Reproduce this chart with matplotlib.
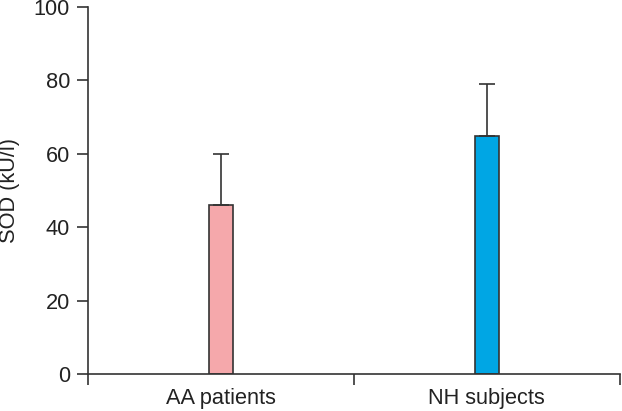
import numpy as np
import matplotlib.pyplot as plt

plt.rcParams['font.family'] = ['Liberation Sans', 'DejaVu Sans']

groups = ['AA patients', 'NH subjects']
sod_mean = [46.0, 64.8]
sod_sd = [14.0, 14.2]
bar_colors = ['#f5a8ab', '#00a6e4']

fig = plt.figure(figsize=(6.22, 4.11), dpi=100)
ax = fig.add_axes([0.1415, 0.09, 0.855, 0.893])

x = np.arange(len(groups))
ax.bar(x, sod_mean, width=0.09, color=bar_colors, edgecolor='#333333', linewidth=1.2,
       yerr=[np.zeros(len(sod_sd)), sod_sd], capsize=5.5,
       error_kw=dict(ecolor='#333333', elinewidth=1.2, capthick=1.2))

ax.set_xlim(-0.5, 1.5)
ax.set_ylim(0, 100)
ax.set_yticks(range(0, 101, 20))
ax.set_xticks([-0.5, 0.5, 1.5])
ax.set_xticklabels([])
ax.set_xticks(x, minor=True)
ax.set_xticklabels(groups, minor=True)
ax.tick_params(axis='x', which='minor', length=0, pad=10, labelsize=15.7, colors='#222222')
ax.tick_params(axis='x', which='major', length=8, width=1.2, color='#333333', direction='out')
ax.tick_params(axis='y', length=8, width=1.2, color='#333333', direction='out', labelsize=15.7, labelcolor='#222222', pad=5)

# y label placed by hand so it is not cut at the left edge
fig.text(10 / 622, 1 - 190 / 411, 'SOD (kU/l)', rotation=90, ha='center', va='center',
         fontsize=15.7, color='#222222')

for side in ['top', 'right']:
    ax.spines[side].set_visible(False)
for side in ['left', 'bottom']:
    ax.spines[side].set_color('#333333')
    ax.spines[side].set_linewidth(1.2)

fig.savefig('out.png', dpi=100)
